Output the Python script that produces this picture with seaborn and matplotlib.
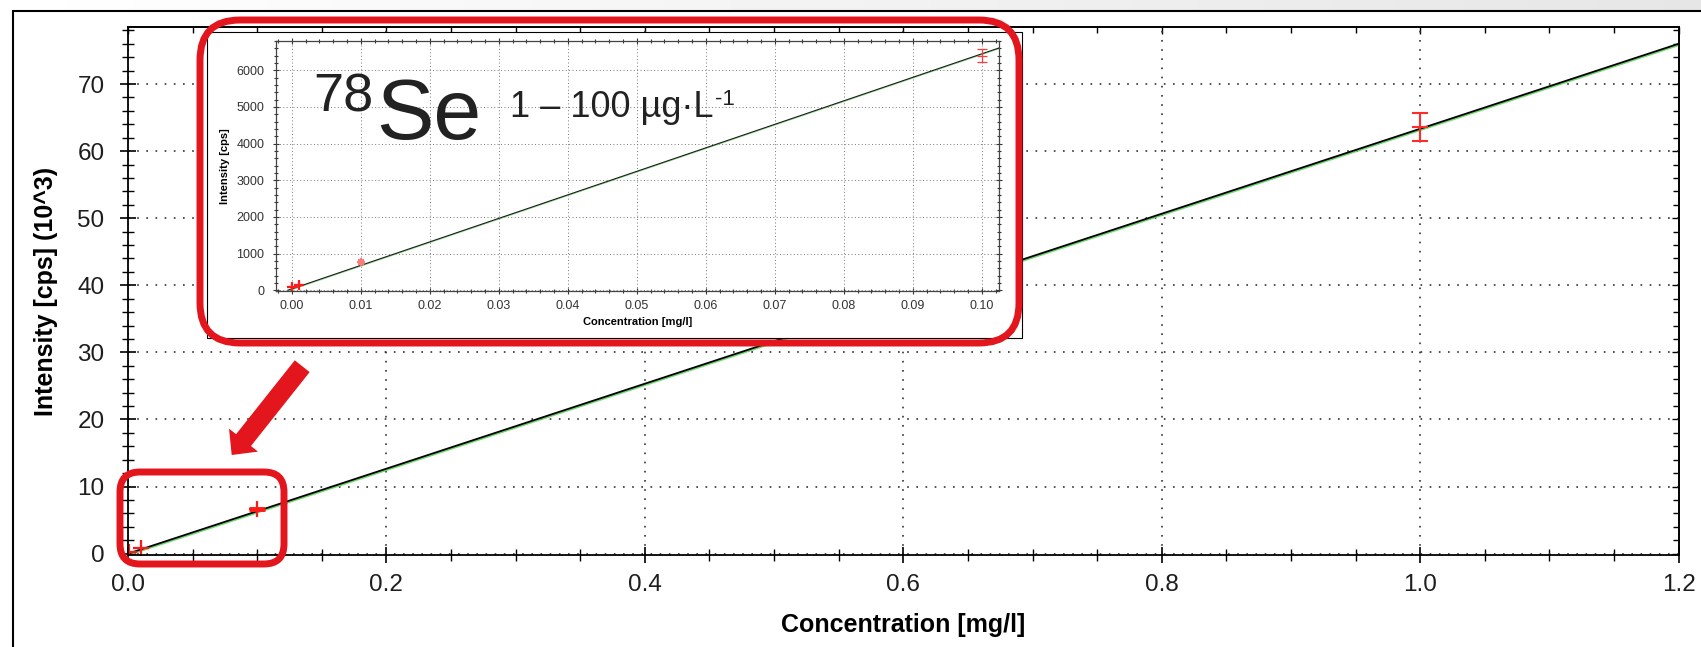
import matplotlib
matplotlib.use('Agg')
import matplotlib.pyplot as plt
import matplotlib.patheffects as pe
from matplotlib.patches import FancyBboxPatch, FancyArrow, Rectangle
from matplotlib.lines import Line2D
from matplotlib.ticker import MultipleLocator
import numpy as np
import pandas as pd
import seaborn as sns

# main calibration, intensity in 10^3 cps
line_conc = [0.0, 1.2]
line_int = [0.0, 76.0]
std_conc = [0.001, 0.01, 0.1]
std_int = [0.2, 0.9, 6.7]
top_conc = [1.0]
top_int = [63.6]
top_err = [2.1]

# inset 0 - 0.1 mg/l, intensity in cps
zoom_line_conc = [-0.0006, 0.1025]
zoom_line_int = [0, 6610]
zoom_conc = [0.0, 0.001]
zoom_int = [100, 145]
zoom_err_conc = [0.01, 0.1]
zoom_err_int = [770, 6400]
zoom_err = [60, 180]

x_ticks = [0.0, 0.2, 0.4, 0.6, 0.8, 1.0, 1.2]
y_ticks = [0, 10, 20, 30, 40, 50, 60, 70]
zoom_x_ticks = [0.00, 0.01, 0.02, 0.03, 0.04, 0.05, 0.06, 0.07, 0.08, 0.09, 0.10]
zoom_y_ticks = [0, 1000, 2000, 3000, 4000, 5000, 6000]

W, H = 1701, 647
RED = '#e3161d'

sns.set_theme(style='ticks')
plt.rcParams['font.family'] = ['Liberation Sans', 'DejaVu Sans']


def fbox(x0, y0, x1, y1):
    # pixel box (from top-left) -> figure fraction rect
    return [x0 / W, 1 - y1 / H, (x1 - x0) / W, (y1 - y0) / H]


fig = plt.figure(figsize=(W / 100, H / 100), dpi=100)
fig.patch.set_facecolor('white')

# window frame of the screenshot
band = fig.add_axes([0, 1 - 10 / H, 1, 10 / H])
band.imshow(np.linspace(1.0, 0.9, 256)[None, :], cmap='gray', vmin=0, vmax=1, aspect='auto')
band.axis('off')
fig.add_artist(Line2D([13 / W, 1], [1 - 10.5 / H] * 2, transform=fig.transFigure, color='black', lw=1.5))
fig.add_artist(Line2D([13 / W] * 2, [0, 1 - 10.5 / H], transform=fig.transFigure, color='black', lw=1.5))

# ---------------- main chart ----------------
ax = fig.add_axes(fbox(128, 27, 1678.6, 555))
shadow = [pe.SimpleLineShadow(offset=(0.8, -0.8), shadow_color='#5fd35f', alpha=0.9), pe.Normal()]
sns.lineplot(x=line_conc, y=line_int, ax=ax, color='black', lw=1.3, path_effects=shadow)
ax.plot(std_conc, std_int, '+', color='#ff1a1a', ms=11, mew=1.6)
ax.plot(std_conc[2:], std_int[2:], '_', color='#ff1a1a', ms=11, mew=3.5)
ax.errorbar(top_conc, top_int, yerr=top_err, fmt='_', color='#ff2a2a', ms=12, mew=1.5,
            lw=1.5, capsize=6, capthick=1.5)

ax.set_xlim(0, 1.2)
ax.set_ylim(-0.2, 78.5)
ax.set_xticks(x_ticks)
ax.set_xticklabels([f'{v:.1f}' for v in x_ticks])
ax.set_yticks(y_ticks)
ax.xaxis.set_minor_locator(MultipleLocator(0.05))
ax.yaxis.set_minor_locator(MultipleLocator(2))
ax.tick_params(which='major', direction='inout', length=12, width=1.2, labelsize=17.5,
               labelcolor='#1e1e1e', color='black')
ax.tick_params(which='minor', direction='inout', length=8, width=1.0, color='black')
ax.tick_params(axis='x', pad=8)
ax.tick_params(axis='y', pad=11)
ax.grid(True, which='major', color='#333333', linestyle=(0, (1, 4.5)), linewidth=1.2)
for s in ax.spines.values():
    s.set_color('black')
    s.set_linewidth(1.3)
ax.set_xlabel('Concentration [mg/l]', fontsize=18, fontweight='bold', labelpad=12, color='black')
ax.set_ylabel('Intensity [cps] (10^3)', fontsize=18, fontweight='bold', labelpad=14, color='black')

sec_x = ax.secondary_xaxis('top')
sec_x.set_xticks(x_ticks)
sec_x.xaxis.set_minor_locator(MultipleLocator(0.05))
sec_x.tick_params(which='both', direction='in', labeltop=False, width=1.0, color='black')
sec_x.tick_params(which='major', length=5)
sec_x.tick_params(which='minor', length=4)
sec_y = ax.secondary_yaxis('right')
sec_y.set_yticks(y_ticks)
sec_y.yaxis.set_minor_locator(MultipleLocator(2))
sec_y.tick_params(which='both', direction='in', labelright=False, width=1.0, color='black')
sec_y.tick_params(which='major', length=5)
sec_y.tick_params(which='minor', length=4)

# ---------------- inset ----------------
fig.add_artist(Rectangle((207 / W, 1 - 337.7 / H), (1021.5 - 207) / W, (337.7 - 31.7) / H,
                         transform=fig.transFigure, facecolor='white', edgecolor='black',
                         lw=0.8, zorder=1))
ax_in = fig.add_axes(fbox(276, 41, 999, 291))
ax_in.set_zorder(2)
ax_in.set_facecolor('white')
thin_shadow = [pe.SimpleLineShadow(offset=(0.4, -0.4), shadow_color='#7fdc7f', alpha=0.9), pe.Normal()]
sns.lineplot(x=zoom_line_conc, y=zoom_line_int, ax=ax_in, color='#1a1a1a', lw=0.8, path_effects=thin_shadow)
ax_in.plot(zoom_conc, zoom_int, '+', color='#ff1a1a', ms=7, mew=1.6)
ax_in.errorbar(zoom_err_conc[:1], zoom_err_int[:1], yerr=zoom_err[:1], fmt='+', color='#ff7a7a',
               ms=6, mew=1.5, lw=1.2, capsize=2.5, capthick=1.2)
ax_in.errorbar(zoom_err_conc[1:], zoom_err_int[1:], yerr=zoom_err[1:], fmt='_', color='#ff3a3a',
               ms=7, mew=0.9, lw=0.9, capsize=3.5, capthick=0.9)

ax_in.set_xlim(-0.0023, 0.1025)
ax_in.set_ylim(-20, 6800)
ax_in.set_xticks(zoom_x_ticks)
ax_in.set_xticklabels([f'{v:.2f}' for v in zoom_x_ticks])
ax_in.set_yticks(zoom_y_ticks)
ax_in.xaxis.set_minor_locator(MultipleLocator(0.002))
ax_in.yaxis.set_minor_locator(MultipleLocator(200))
ax_in.tick_params(which='both', direction='inout', top=True, right=True, color='#333333', width=0.8)
ax_in.tick_params(which='major', length=4.5, labelsize=9, labelcolor='#333333')
ax_in.tick_params(which='minor', length=3)
ax_in.tick_params(axis='x', pad=4)
ax_in.tick_params(axis='y', pad=6)
ax_in.grid(True, which='major', color='#777777', linestyle=(0, (1, 2.5)), linewidth=0.7)
for s in ax_in.spines.values():
    s.set_color('#444444')
    s.set_linewidth(0.9)
ax_in.set_xlabel('Concentration [mg/l]', fontsize=8, fontweight='bold', labelpad=4, color='black')
ax_in.set_ylabel('Intensity [cps]', fontsize=8, fontweight='bold', labelpad=5, color='black')

# isotope annotation
fig.text(313 / W, 1 - 112 / H, '78', fontsize=39, color='#222222', ha='left', va='baseline', zorder=4)
fig.text(376 / W, 1 - 139 / H, 'Se', fontsize=62, color='#222222', ha='left', va='baseline', zorder=4)
fig.text(510 / W, 1 - 116.7 / H, '1 – 100 µg·L', fontsize=26, color='#222222', ha='left',
         va='baseline', zorder=4)
fig.text(715 / W, 1 - 105 / H, '-1', fontsize=16, color='#222222', ha='left', va='baseline', zorder=4)

# red highlight boxes and arrow (inch coordinates from bottom-left)
fig.add_artist(FancyBboxPatch((2.00, (H - 343) / 100), 8.19, 3.23,
                              boxstyle='round,pad=0,rounding_size=0.40',
                              transform=fig.dpi_scale_trans, fill=False, edgecolor=RED, lw=5, zorder=3))
fig.add_artist(FancyBboxPatch((1.20, (H - 564) / 100), 1.64, 0.92,
                              boxstyle='round,pad=0,rounding_size=0.20',
                              transform=fig.dpi_scale_trans, fill=False, edgecolor=RED, lw=5, zorder=3))
fig.add_artist(FancyArrow(3.022, (H - 366.2) / 100, -0.705, -0.888, width=0.19, head_width=0.37,
                          head_length=0.19, length_includes_head=True,
                          transform=fig.dpi_scale_trans, color=RED, lw=0, zorder=3))

fig.savefig('out.png', dpi=100)
